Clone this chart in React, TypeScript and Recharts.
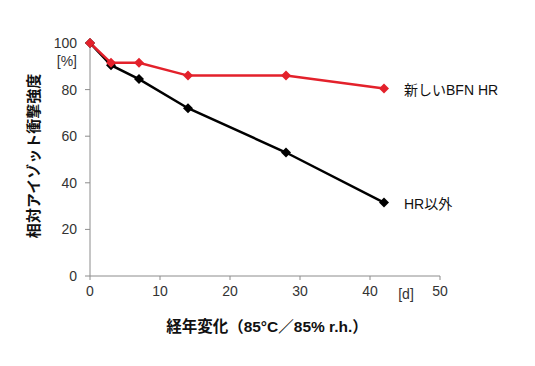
import { LineChart, Line, XAxis, YAxis } from "recharts";

const days = [0, 3, 7, 14, 28, 42];
const newBfnHr = [100, 91.5, 91.5, 86, 86, 80.5];
const otherHr = [100, 90.5, 84.5, 72, 53, 31.5];
const xTicks = [0, 10, 20, 30, 40, 50];
const yTicks = [0, 20, 40, 60, 80, 100];
const seriesNames = ["新しいBFN HR", "HR以外"];

const FONT = '"Liberation Sans", Arial, "Noto Sans CJK JP", sans-serif';
const RED = "#e3212b";
const AXIS = "#8c8c8c";

const data = days.map((d, i) => ({ day: d, bfn: newBfnHr[i], other: otherHr[i] }));

function Diamond({ cx, cy, fill }: any) {
  if (cx == null || cy == null) return null;
  const r = 5;
  return (
    <polygon
      points={`${cx},${cy - r} ${cx + r},${cy} ${cx},${cy + r} ${cx - r},${cy}`}
      fill={fill}
    />
  );
}

function endLabel(text: string) {
  return (props: any) => {
    const { x, y, index } = props;
    if (index !== days.length - 1) return null;
    return (
      <text x={x + 20} y={y + 3} dominantBaseline="middle" fontSize={14} fill="#111" fontFamily={FONT}>
        {text}
      </text>
    );
  };
}

export default function App() {
  return (
    <div style={{ position: "fixed", left: 0, top: 0, width: 535, height: 366, background: "#fff", fontFamily: FONT }}>
      <LineChart width={535} height={366} data={data} margin={{ top: 43, right: 95, bottom: 60, left: 30 }}>
        <XAxis
          dataKey="day"
          type="number"
          domain={[0, 50]}
          ticks={xTicks}
          stroke={AXIS}
          tickSize={4}
          tickMargin={6}
          height={30}
          tick={{ fontSize: 14, fill: "#333", fontFamily: FONT }}
        />
        <YAxis
          type="number"
          domain={[0, 100]}
          ticks={yTicks}
          stroke={AXIS}
          tickSize={5}
          tickMargin={8}
          width={60}
          tick={{ fontSize: 14, fill: "#333", fontFamily: FONT }}
        />
        <Line
          dataKey="other"
          stroke="#000"
          strokeWidth={2.5}
          dot={<Diamond fill="#000" />}
          activeDot={false}
          label={endLabel(seriesNames[1])}
          isAnimationActive={false}
        />
        <Line
          dataKey="bfn"
          stroke={RED}
          strokeWidth={2.5}
          dot={<Diamond fill={RED} />}
          activeDot={false}
          label={endLabel(seriesNames[0])}
          isAnimationActive={false}
        />
      </LineChart>
      <svg width={535} height={366} style={{ position: "absolute", left: 0, top: 0, pointerEvents: "none" }}>
        <text x={77} y={62} textAnchor="end" dominantBaseline="middle" fontSize={14} fill="#333" fontFamily={FONT}>
          [%]
        </text>
        <text x={406} y={295} textAnchor="middle" dominantBaseline="middle" fontSize={14} fill="#333" fontFamily={FONT}>
          [d]
        </text>
        <text
          x={35}
          y={156}
          transform="rotate(-90 35 156)"
          textAnchor="middle"
          dominantBaseline="middle"
          fontSize={15}
          fontWeight="bold"
          fill="#111"
          fontFamily={FONT}
        >
          相対アイゾット衝撃強度
        </text>
        <text x={267} y={328} textAnchor="middle" dominantBaseline="middle" fontSize={15.5} fontWeight="bold" fill="#111" fontFamily={FONT}>
          経年変化（85°C／85% r.h.）
        </text>
      </svg>
    </div>
  );
}
